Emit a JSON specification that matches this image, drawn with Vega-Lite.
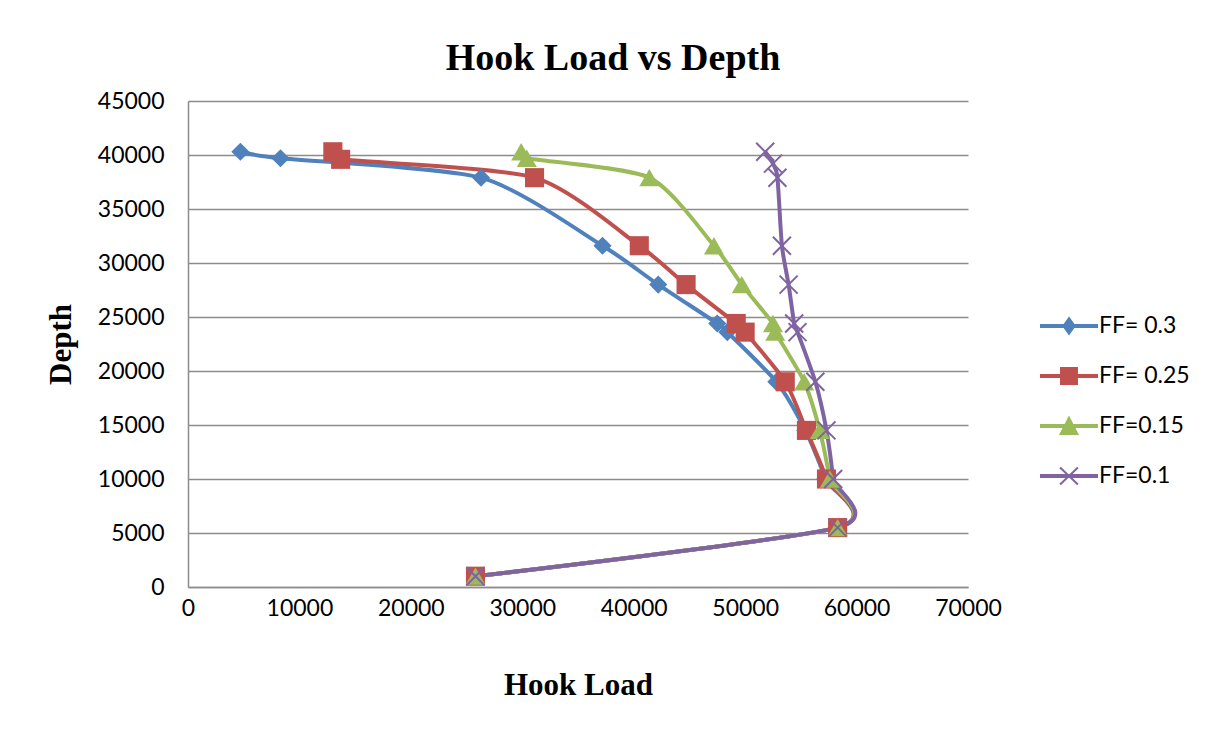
{
  "$schema": "https://vega.github.io/schema/vega-lite/v6.json",
  "width": 780,
  "height": 486,
  "autosize": "none",
  "padding": {"left": 188, "top": 101, "right": 246, "bottom": 145},
  "background": "white",
  "title": {
    "text": "Hook Load vs Depth",
    "font": "Liberation Serif",
    "fontSize": 38,
    "fontWeight": "bold",
    "color": "black",
    "anchor": "middle",
    "frame": "group",
    "dx": 35,
    "offset": 12
  },
  "config": {
    "view": {"stroke": null},
    "axis": {
      "labelFont": "Lato",
      "labelFontSize": 23,
      "labelColor": "black",
      "titleFont": "Liberation Serif",
      "titleFontSize": 31,
      "titleFontWeight": "bold",
      "titleColor": "black",
      "ticks": false,
      "tickSize": 0,
      "labelFlush": false,
      "domainColor": "#8c8c8c",
      "domainWidth": 1.5,
      "gridColor": "#8c8c8c",
      "gridWidth": 1.5
    }
  },
  "data": {
    "values": [
      {"series": "FF= 0.3", "load": 4700, "depth": 40300},
      {"series": "FF= 0.3", "load": 8300, "depth": 39700},
      {"series": "FF= 0.3", "load": 26300, "depth": 37900},
      {"series": "FF= 0.3", "load": 37200, "depth": 31600},
      {"series": "FF= 0.3", "load": 42200, "depth": 28000},
      {"series": "FF= 0.3", "load": 47500, "depth": 24400},
      {"series": "FF= 0.3", "load": 48400, "depth": 23600},
      {"series": "FF= 0.3", "load": 52800, "depth": 19000},
      {"series": "FF= 0.3", "load": 55400, "depth": 14500},
      {"series": "FF= 0.3", "load": 57200, "depth": 10000},
      {"series": "FF= 0.3", "load": 58300, "depth": 5500},
      {"series": "FF= 0.3", "load": 25800, "depth": 1000},
      {"series": "FF= 0.25", "load": 13000, "depth": 40300},
      {"series": "FF= 0.25", "load": 13700, "depth": 39600},
      {"series": "FF= 0.25", "load": 31100, "depth": 37900},
      {"series": "FF= 0.25", "load": 40500, "depth": 31600},
      {"series": "FF= 0.25", "load": 44700, "depth": 28000},
      {"series": "FF= 0.25", "load": 49200, "depth": 24400},
      {"series": "FF= 0.25", "load": 50000, "depth": 23600},
      {"series": "FF= 0.25", "load": 53600, "depth": 19000},
      {"series": "FF= 0.25", "load": 55500, "depth": 14500},
      {"series": "FF= 0.25", "load": 57300, "depth": 10000},
      {"series": "FF= 0.25", "load": 58300, "depth": 5500},
      {"series": "FF= 0.25", "load": 25800, "depth": 1000},
      {"series": "FF=0.15", "load": 29900, "depth": 40300},
      {"series": "FF=0.15", "load": 30400, "depth": 39700},
      {"series": "FF=0.15", "load": 41400, "depth": 37900},
      {"series": "FF=0.15", "load": 47200, "depth": 31600},
      {"series": "FF=0.15", "load": 49700, "depth": 28000},
      {"series": "FF=0.15", "load": 52500, "depth": 24400},
      {"series": "FF=0.15", "load": 52700, "depth": 23600},
      {"series": "FF=0.15", "load": 55300, "depth": 19000},
      {"series": "FF=0.15", "load": 56700, "depth": 14500},
      {"series": "FF=0.15", "load": 57600, "depth": 10000},
      {"series": "FF=0.15", "load": 58300, "depth": 5500},
      {"series": "FF=0.15", "load": 25800, "depth": 1000},
      {"series": "FF=0.1", "load": 51800, "depth": 40300},
      {"series": "FF=0.1", "load": 52500, "depth": 39200},
      {"series": "FF=0.1", "load": 52900, "depth": 37900},
      {"series": "FF=0.1", "load": 53300, "depth": 31600},
      {"series": "FF=0.1", "load": 53900, "depth": 28000},
      {"series": "FF=0.1", "load": 54400, "depth": 24400},
      {"series": "FF=0.1", "load": 54700, "depth": 23600},
      {"series": "FF=0.1", "load": 56300, "depth": 19000},
      {"series": "FF=0.1", "load": 57300, "depth": 14500},
      {"series": "FF=0.1", "load": 57900, "depth": 10000},
      {"series": "FF=0.1", "load": 58300, "depth": 5500},
      {"series": "FF=0.1", "load": 25800, "depth": 1000}
    ]
  },
  "encoding": {
    "x": {
      "field": "load",
      "type": "quantitative",
      "title": "Hook Load",
      "scale": {"domain": [0, 70000], "nice": false, "zero": true},
      "axis": {"values": [0, 10000, 20000, 30000, 40000, 50000, 60000, 70000], "format": "d", "grid": false, "labelPadding": 10, "titlePadding": 50}
    },
    "y": {
      "field": "depth",
      "type": "quantitative",
      "title": "Depth",
      "scale": {"domain": [0, 45000], "nice": false},
      "axis": {"values": [0, 5000, 10000, 15000, 20000, 25000, 30000, 35000, 40000, 45000], "format": "d", "grid": true, "labelPadding": 24, "titlePadding": 20}
    },
    "color": {
      "field": "series",
      "type": "nominal",
      "scale": {"domain": ["FF= 0.3", "FF= 0.25", "FF=0.15", "FF=0.1"], "range": ["#4F81BD", "#C0504D", "#9BBB59", "#8064A2"]}
    }
  },
  "layer": [
    {
      "mark": {"type": "line", "interpolate": "cardinal", "tension": 0.3, "strokeWidth": 4},
      "encoding": {
        "order": {"field": "depth", "type": "quantitative"},
        "color": {
          "field": "series",
          "type": "nominal",
          "scale": {"domain": ["FF= 0.3", "FF= 0.25", "FF=0.15", "FF=0.1"], "range": ["#4F81BD", "#C0504D", "#9BBB59", "#8064A2"]},
          "legend": {
            "title": null,
            "orient": "none",
            "legendX": 866,
            "legendY": 210,
            "padding": 0,
            "symbolSize": 784,
            "rowPadding": 23,
            "labelFont": "Lato",
            "labelFontSize": 23,
            "labelColor": "black",
            "labelOffset": 15,
            "encode": {
              "symbols": {
                "update": {
                  "shape": {"signal": "datum.value === 'FF= 0.3' ? 'M-2,-0.08H2V0.08H-2Z M0,-0.56L0.4,0L0,0.56L-0.4,0Z' : datum.value === 'FF= 0.25' ? 'M-2,-0.08H2V0.08H-2Z M-0.57,-0.57H0.57V0.57H-0.57Z' : datum.value === 'FF=0.15' ? 'M-2,-0.08H2V0.08H-2Z M0,-0.6L0.6,0.57H-0.6Z' : 'M-2,-0.08H2V0.08H-2Z M-0.64,-0.6L0.64,0.6M0.64,-0.6L-0.64,0.6'"},
                  "fill": {"scale": "color", "field": "value"},
                  "stroke": {"scale": "color", "field": "value"},
                  "strokeWidth": {"value": 2},
                  "opacity": {"value": 1}
                }
              }
            }
          }
        }
      }
    },
    {
      "transform": [{"filter": "datum.series !== 'FF=0.1'"}],
      "mark": {"type": "point", "filled": true, "opacity": 1},
      "encoding": {
        "shape": {
          "field": "series",
          "type": "nominal",
          "scale": {"domain": ["FF= 0.3", "FF= 0.25", "FF=0.15"], "range": ["diamond", "square", "triangle-up"]},
          "legend": null
        },
        "size": {
          "field": "series",
          "type": "nominal",
          "scale": {"domain": ["FF= 0.3", "FF= 0.25", "FF=0.15"], "range": [330, 400, 420]},
          "legend": null
        }
      }
    },
    {
      "transform": [{"filter": "datum.series === 'FF=0.1'"}],
      "mark": {"type": "point", "filled": false, "opacity": 1, "shape": "M-1,-1L1,1M1,-1L-1,1", "size": 324, "strokeWidth": 2}
    }
  ]
}
